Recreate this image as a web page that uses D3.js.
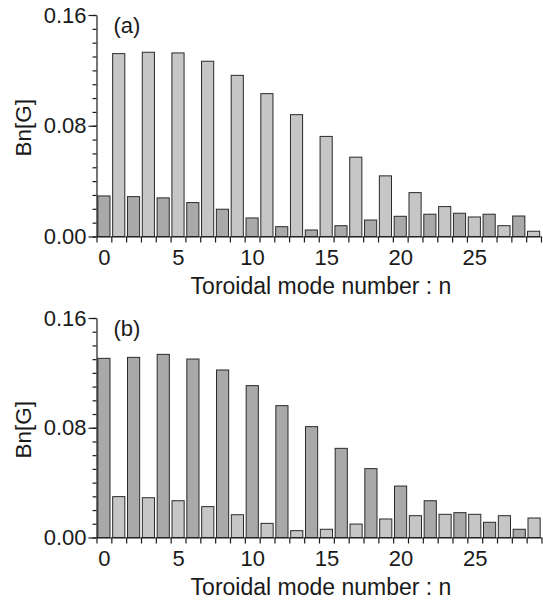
<!DOCTYPE html>
<html>
<head>
<meta charset="utf-8">
<script src="https://cdn.jsdelivr.net/npm/d3@7"></script>
<style>
    body { margin: 0; background: #fff; }
    text { font-family: "Liberation Sans", Arial, sans-serif; fill: #1a1a1a; }
</style>
</head>
<body>
<div id="chart"></div>
<script>
// Toroidal mode numbers (one bar each)
const modeNumbers = [0, 1, 2, 3, 4, 5, 6, 7, 8, 9, 10, 11, 12, 13, 14,
    15, 16, 17, 18, 19, 20, 21, 22, 23, 24, 25, 26, 27, 28, 29];

// Bn[G]
const bnPanelA = [0.0293, 0.1321, 0.0288, 0.1331, 0.0279, 0.1326, 0.0245, 0.1266,
    0.0197, 0.1164, 0.0134, 0.1032, 0.0071, 0.0880, 0.0047, 0.0723, 0.0078, 0.0573,
    0.0119, 0.0438, 0.0146, 0.0317, 0.0161, 0.0216, 0.0168, 0.0141, 0.0161, 0.0078,
    0.0148, 0.0038];

// Bn[G]
const bnPanelB = [0.1306, 0.0298, 0.1313, 0.0290, 0.1335, 0.0268, 0.1301, 0.0225,
    0.1221, 0.0166, 0.1107, 0.0103, 0.0961, 0.0050, 0.0808, 0.0060, 0.0650, 0.0098,
    0.0502, 0.0135, 0.0375, 0.0159, 0.0268, 0.0169, 0.0181, 0.0169, 0.0111, 0.0159,
    0.0060, 0.0142];

const xTickLabels = [0, 5, 10, 15, 20, 25];
const yTickLabels = [0, 0.08, 0.16];
const yMinorTicks = [0, 0.01, 0.02, 0.03, 0.04, 0.05, 0.06, 0.07, 0.08,
    0.09, 0.10, 0.11, 0.12, 0.13, 0.14, 0.15, 0.16];

const darkGray = "#a9a9a9";
const lightGray = "#c6c6c6";

const svg = d3.select("#chart")
    .append("svg")
    .attr("width", 543)
    .attr("height", 606);

function drawPanel(values, opts) {
    const g = svg.append("g");

    const x = d3.scaleBand()
        .domain(modeNumbers)
        .range([opts.left, opts.right])
        .paddingInner(0.18)
        .paddingOuter(0.09);

    // continuous twin of the band scale, for ticks
    const xLin = d3.scaleLinear()
        .domain([-0.5, modeNumbers.length - 0.5])
        .range([opts.left, opts.right]);

    const y = d3.scaleLinear()
        .domain([0, 0.16])
        .range([opts.bottom, opts.top]);

    // Bars
    g.selectAll("rect")
        .data(values)
        .enter()
        .append("rect")
        .attr("x", (d, i) => x(modeNumbers[i]))
        .attr("y", d => y(d))
        .attr("width", x.bandwidth())
        .attr("height", d => opts.bottom - y(d))
        .attr("fill", (d, i) => modeNumbers[i] % 2 === 0 ? darkGray : lightGray)
        .attr("stroke", "#2a2a2a")
        .attr("stroke-width", 1);

    // x axis: ticks between bars, labels under bar centres
    const halfSteps = d3.range(-0.5, modeNumbers.length, 1);
    g.append("g")
        .attr("transform", `translate(0,${opts.bottom})`)
        .call(d3.axisBottom(xLin).tickValues(halfSteps).tickSize(6).tickSizeOuter(0).tickFormat(""))
        .call(a => a.selectAll("line, path").attr("stroke", "#1a1a1a").attr("stroke-width", 1.2));

    g.append("g")
        .attr("transform", `translate(0,${opts.bottom})`)
        .call(d3.axisBottom(xLin).tickValues(xTickLabels).tickSize(0).tickPadding(12.5))
        .call(a => a.select(".domain").remove())
        .call(a => a.selectAll("text").style("font-size", "22px").attr("fill", "#1a1a1a"));

    // y axis: minor ticks every 0.01, labelled majors
    g.append("g")
        .attr("transform", `translate(${opts.left},0)`)
        .call(d3.axisLeft(y).tickValues(yMinorTicks).tickSize(4).tickSizeOuter(0).tickFormat(""))
        .call(a => a.selectAll("line, path").attr("stroke", "#1a1a1a").attr("stroke-width", 1.2));

    g.append("g")
        .attr("transform", `translate(${opts.left},0)`)
        .call(d3.axisLeft(y).tickValues(yTickLabels).tickSize(8).tickPadding(2).tickFormat(d3.format(".2f")))
        .call(a => a.select(".domain").remove())
        .call(a => a.selectAll("line").attr("stroke", "#1a1a1a").attr("stroke-width", 1.2))
        .call(a => a.selectAll("text").style("font-size", "22px").attr("fill", "#1a1a1a"));

    // Labels
    g.append("text")
        .attr("x", opts.left + 17)
        .attr("y", opts.top + 18)
        .style("font-size", "22px")
        .text(opts.tag);

    g.append("text")
        .attr("transform", `translate(31,${(opts.top + opts.bottom) / 2 + 2}) rotate(-90)`)
        .attr("text-anchor", "middle")
        .style("font-size", "22.5px")
        .text("Bn[G]");

    g.append("text")
        .attr("x", 321)
        .attr("y", opts.bottom + 57)
        .attr("text-anchor", "middle")
        .style("font-size", "23px")
        .text("Toroidal mode number : n");
}

drawPanel(bnPanelA, { top: 15, bottom: 236.5, left: 96.5, right: 541, tag: "(a)" });
drawPanel(bnPanelB, { top: 318, bottom: 537.5, left: 96.5, right: 541.5, tag: "(b)" });
</script>
</body>
</html>
